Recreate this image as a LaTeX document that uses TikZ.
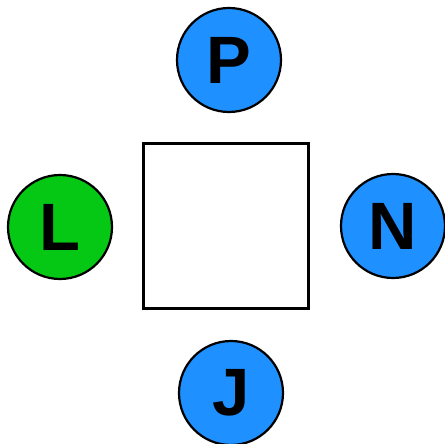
\documentclass[tikz,border=0pt]{standalone}
\usepackage{fontspec}
\setmainfont{Liberation Sans}
\definecolor{pblue}{RGB}{30,144,255}
\definecolor{pgreen}{RGB}{4,200,20}
\begin{document}
\begin{tikzpicture}[x=1pt,y=1pt,
  ball/.style={circle,draw=black,line width=2.2pt,minimum size=104pt,inner sep=0pt,font=\fontsize{67}{67}\selectfont\bfseries},
  boxsq/.style={draw=black,line width=2.2pt,minimum size=165pt,inner sep=0pt}]
\useasboundingbox (0,0) rectangle (444,444);
\node[boxsq] (sq) at (226,218) {};
\node[ball,fill=pblue] (P) at (229,384) {P};
\node[ball,fill=pgreen] (L) at (60,217) {L};
\node[ball,fill=pblue] (N) at (393,218) {N};
\node[ball,fill=pblue] (J) at (231,51) {J};
\end{tikzpicture}
\end{document}
